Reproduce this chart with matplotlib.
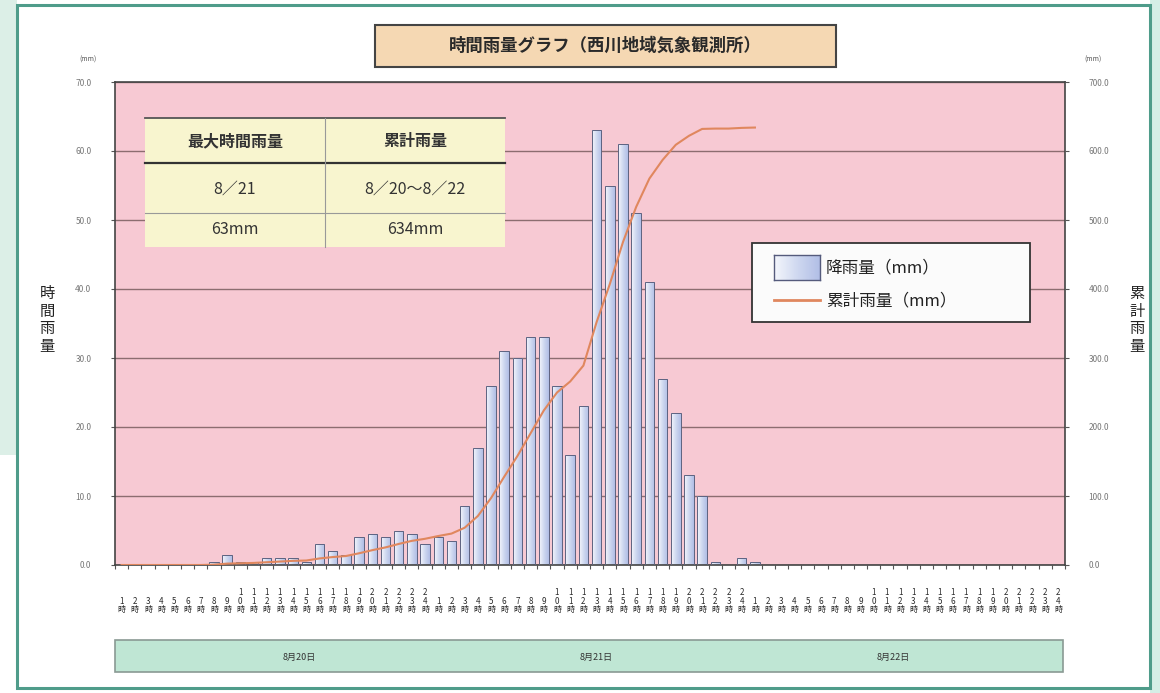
import numpy as np
import matplotlib
matplotlib.use("Agg")
import matplotlib.pyplot as plt
from matplotlib.patches import Rectangle
from matplotlib.lines import Line2D
from matplotlib.colors import LinearSegmentedColormap
import matplotlib.transforms as mtransforms

plt.rcParams['font.family'] = ['Noto Sans CJK JP', 'DejaVu Sans']

# hourly rainfall (mm), 8/20 1時 .. 8/22 24時
rain_0820 = [0, 0, 0, 0, 0, 0, 0, 0.5, 1.5, 0.5, 0.5, 1, 1, 1, 0.5, 3, 2, 1.5, 4, 4.5, 4, 5, 4.5, 3]
rain_0821 = [4, 3.5, 8.5, 17, 26, 31, 30, 33, 33, 26, 16, 23, 63, 55, 61, 51, 41, 27, 22, 13, 10, 0.5, 0, 1]
rain_0822 = [0.5] + [0] * 23
hours = list(range(1, 25))
dates = ["8月20日", "8月21日", "8月22日"]
date_pos = [13.5, 36.0, 58.5]
line_end = 48  # cumulative line stops after the last recorded hour

hourly = np.array(rain_0820 + rain_0821 + rain_0822)
cumulative = np.cumsum(hourly)
n = len(hourly)
x = np.arange(n)

W, H = 1160, 693
fig = plt.figure(figsize=(W / 100, H / 100), dpi=100)
fig.patch.set_facecolor('white')


def fx(px):
    return px / W


def fy(py):
    return 1 - py / H


# outer frame
fig.add_artist(Rectangle((0, fy(455)), fx(17), fy(0) - fy(455), transform=fig.transFigure,
                         facecolor='#dcefe7', edgecolor='none', zorder=0))
fig.add_artist(Rectangle((fx(1150), 0), fx(10), 1, transform=fig.transFigure,
                         facecolor='#d5eee6', edgecolor='none', zorder=0))
fig.add_artist(Rectangle((fx(17), fy(688)), fx(1150 - 17), fy(5) - fy(688), transform=fig.transFigure,
                         facecolor='none', edgecolor='#4f9c8a', lw=2.2, zorder=1))

ax = fig.add_axes([fx(115), fy(565), fx(1065 - 115), fy(82) - fy(565)])
ax.set_facecolor('#f7c9d3')
ax.set_xlim(-0.5, n - 0.5)
ax.set_ylim(0, 70)

bars = ax.bar(x, hourly, width=0.72, facecolor='none', edgecolor='#5d6280', lw=0.7, zorder=3)
grad = LinearSegmentedColormap.from_list('bar', ['#f4f6fc', '#cfd8f0', '#b1bee6'])
g = np.linspace(0, 1, 32).reshape(1, -1)
for b, v in zip(bars, hourly):
    if v <= 0:
        continue
    im = ax.imshow(g, cmap=grad, aspect='auto', zorder=2,
                   extent=[b.get_x(), b.get_x() + b.get_width(), 0, v])
    im.set_clip_path(b)
ax.set_xlim(-0.5, n - 0.5)
ax.set_ylim(0, 70)

ax.set_yticks(np.arange(0, 71, 10))
ax.set_yticklabels([f"{v:.1f}" for v in np.arange(0, 71, 10)], fontsize=6, color='#777777')
ax.yaxis.grid(True, color='#8c6d70', lw=1.0)
ax.set_axisbelow(True)
ax.set_xticks(np.arange(-0.5, n, 1))
ax.set_xticklabels([])
ax.tick_params(axis='x', length=3, color='#555555')
ax.tick_params(axis='y', length=3, color='#555555', pad=14)
for s in ax.spines.values():
    s.set_color('#444444')
    s.set_linewidth(1.2)

ax2 = ax.twinx()
ax2.set_ylim(0, 700)
ax2.plot(x[:line_end + 1], cumulative[:line_end + 1], color='#e0875e', lw=1.5, zorder=4)
ax2.set_yticks(np.arange(0, 701, 100))
ax2.set_yticklabels([f"{v:.1f}" for v in np.arange(0, 701, 100)], fontsize=6, color='#777777')
ax2.tick_params(axis='y', length=3, color='#555555', pad=14)
for s in ax2.spines.values():
    s.set_visible(False)

# hour labels, stacked vertically
trans = mtransforms.blended_transform_factory(ax.transData, fig.transFigure)
for i in range(n):
    h = hours[i % 24]
    lab = "\n".join(list(str(h)) + ["時"])
    ax.text(i, fy(614), lab, transform=trans, ha='center', va='bottom',
            fontsize=5.8, linespacing=0.92, color='#2a2a2a', clip_on=False)

# date band
fig.add_artist(Rectangle((fx(115), fy(672)), fx(1063 - 115), fy(640) - fy(672), transform=fig.transFigure,
                         facecolor='#bfe6d4', edgecolor='#8a9a94', lw=1.2, zorder=1))
for d, p in zip(dates, date_pos):
    fig.text(fx(115 + (p + 0.5) * (1065 - 115) / n), fy(657), d, ha='center', va='center',
             fontsize=6.5, color='#333333', zorder=3)

# axis titles and units
fig.text(fx(47), fy(320), "時\n間\n雨\n量", ha='center', va='center', fontsize=11,
         linespacing=1.05, color='#222222')
fig.text(fx(1137), fy(320), "累\n計\n雨\n量", ha='center', va='center', fontsize=11,
         linespacing=1.05, color='#222222')
fig.text(fx(88), fy(60), "(mm)", ha='center', va='center', fontsize=5, color='#555555')
fig.text(fx(1093), fy(60), "(mm)", ha='center', va='center', fontsize=5, color='#555555')

# title box
fig.add_artist(Rectangle((fx(375), fy(67)), fx(836 - 375), fy(25) - fy(67), transform=fig.transFigure,
                         facecolor='#f5d8b3', edgecolor='#444444', lw=1.5, zorder=5))
fig.text(fx(605), fy(46), "時間雨量グラフ（西川地域気象観測所）", ha='center', va='center',
         fontsize=12.5, color='#2a2a2a', fontweight='bold', zorder=6)

# summary table
fig.add_artist(Rectangle((fx(145), fy(247)), fx(505 - 145), fy(118) - fy(247), transform=fig.transFigure,
                         facecolor='#f8f5cf', edgecolor='none', zorder=5))
for yy, c, w in [(118, '#555555', 1.3), (163, '#333333', 1.6), (213, '#999999', 0.8)]:
    fig.add_artist(Line2D([fx(145), fx(505)], [fy(yy), fy(yy)], transform=fig.transFigure,
                          color=c, lw=w, zorder=6))
fig.add_artist(Line2D([fx(325), fx(325)], [fy(118), fy(247)], transform=fig.transFigure,
                      color='#999999', lw=0.8, zorder=6))
peak_day = "8／21"
period = "8／20～8／22"
rows = [("最大時間雨量", "累計雨量"),
        (peak_day, period),
        (f"{hourly.max():.0f}mm", f"{hourly.sum():.0f}mm")]
for (a, b), yy, wt in zip(rows, [141, 189, 229], ['bold', 'normal', 'normal']):
    fig.text(fx(235), fy(yy), a, ha='center', va='center', fontsize=11.5, color='#333333',
             fontweight=wt, zorder=7)
    fig.text(fx(415), fy(yy), b, ha='center', va='center', fontsize=11.5, color='#333333',
             fontweight=wt, zorder=7)

# legend
fig.add_artist(Rectangle((fx(752), fy(322)), fx(1030 - 752), fy(243) - fy(322), transform=fig.transFigure,
                         facecolor='#fbfbfb', edgecolor='#333333', lw=1.3, zorder=5))
leg_ax = fig.add_axes([fx(774), fy(280), fx(820 - 774), fy(255) - fy(280)], zorder=6)
leg_ax.imshow(g, cmap=grad, aspect='auto', extent=[0, 1, 0, 1])
leg_ax.set_xticks([])
leg_ax.set_yticks([])
for s in leg_ax.spines.values():
    s.set_color('#555b7c')
    s.set_linewidth(1.0)
fig.add_artist(Line2D([fx(774), fx(820)], [fy(300), fy(300)], transform=fig.transFigure,
                      color='#e0875e', lw=2, zorder=6))
fig.text(fx(826), fy(268), "降雨量（mm）", ha='left', va='center', fontsize=12, color='#222222', zorder=7)
fig.text(fx(826), fy(301), "累計雨量（mm）", ha='left', va='center', fontsize=12, color='#222222', zorder=7)

fig.savefig("out.png", dpi=100)
